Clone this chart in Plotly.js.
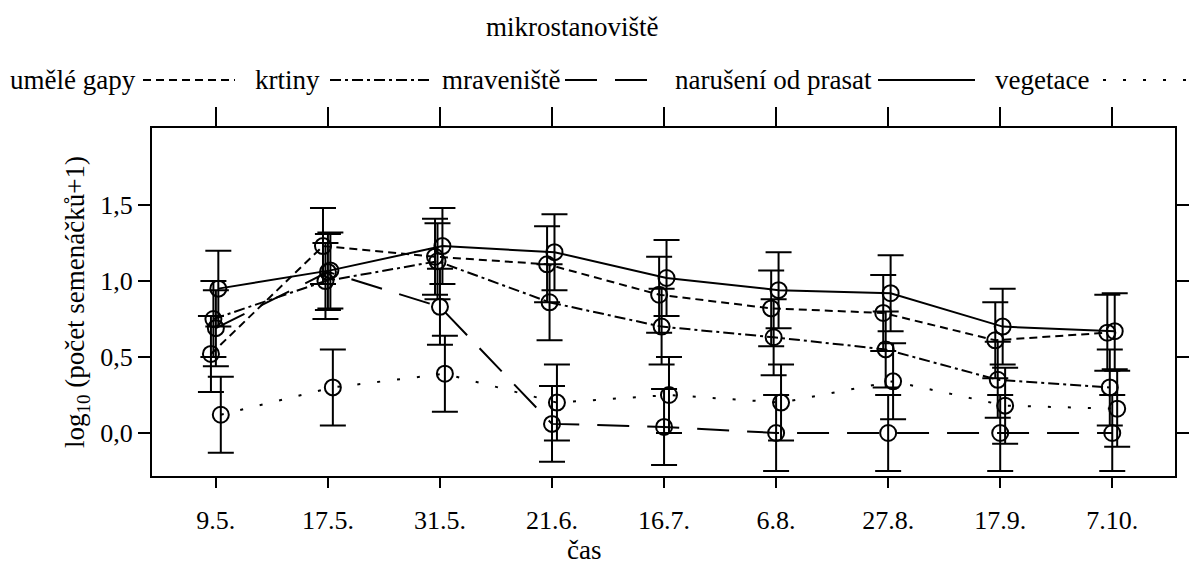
<!DOCTYPE html>
<html>
<head>
<meta charset="utf-8">
<script src="https://cdn.plot.ly/plotly-3.0.1.min.js"></script>
<style>body{margin:0;background:#fff}</style>
</head>
<body>
<div id="chart" style="width:1195px;height:565px"></div>
<script>
// categories (sampling dates)
const dates = ["9.5.", "17.5.", "31.5.", "21.6.", "16.7.", "6.8.", "27.8.", "17.9.", "7.10."];
const yTickVals = [0, 0.5, 1, 1.5];
const yTickText = ["0,0", "0,5", "1,0", "1,5"];

// series names (microsites)
const seriesNames = ["umělé gapy", "krtiny", "mraveniště", "narušení od prasat", "vegetace"];

// mean log10(count+1)
const gapy     = [0.52, 1.23, 1.16, 1.11, 0.91, 0.82, 0.79, 0.61, 0.66];
const krtiny   = [0.75, 1.00, 1.13, 0.86, 0.70, 0.63, 0.55, 0.35, 0.30];
const mravenis = [0.69, 1.06, 0.83, 0.06, 0.04, 0.00, 0.00, 0.00, 0.00];
const prasata  = [0.95, 1.07, 1.23, 1.19, 1.02, 0.94, 0.92, 0.70, 0.67];
const vegetace = [0.12, 0.30, 0.39, 0.20, 0.25, 0.20, 0.34, 0.18, 0.16];

// error bar half-widths
const gapyErr     = [0.25, 0.25, 0.25, 0.25, 0.25, 0.25, 0.25, 0.25, 0.25];
const krtinyErr   = [0.25, 0.25, 0.25, 0.25, 0.25, 0.25, 0.25, 0.25, 0.25];
const mravenisErr = [0.25, 0.25, 0.25, 0.25, 0.25, 0.25, 0.25, 0.25, 0.25];
const prasataErr  = [0.25, 0.25, 0.25, 0.25, 0.25, 0.25, 0.25, 0.25, 0.25];
const vegetaceErr = [0.25, 0.25, 0.25, 0.25, 0.25, 0.25, 0.25, 0.25, 0.25];

const values = [gapy, krtiny, mravenis, prasata, vegetace];
const errors = [gapyErr, krtinyErr, mravenisErr, prasataErr, vegetaceErr];
const dashes = ["8px,5px", "11px,4px,3px,4px", "32px,18px", "solid", "3px,17px"];
const dodge = [-2, -1, 0, 1, 2];
const dodgeStep = 0.022;

const FONT = '"Liberation Serif", "Times New Roman", "DejaVu Serif", serif';
const FS = 27;     // titles and key text
const FT = 26;     // tick labels
const idx = dates.map((d, i) => i);

const traces = values.map((vals, s) => ({
  type: "scatter",
  mode: "lines+markers",
  name: seriesNames[s],
  x: idx.map(i => i + dodge[s] * dodgeStep),
  y: vals,
  line: {color: "black", width: 2, dash: dashes[s]},
  marker: {symbol: "circle-open", size: 16, color: "black", line: {width: 2, color: "black"}},
  error_y: {type: "data", array: errors[s], visible: true, color: "black", thickness: 2, width: 13},
  showlegend: false,
  hoverinfo: "x+y+name"
}));

// invisible trace to carry the top tick axis
traces.push({
  type: "scatter", mode: "lines", x: idx, y: prasata, xaxis: "x2",
  line: {width: 0}, opacity: 0, showlegend: false, hoverinfo: "skip"
});

// manual key: text followed by line sample (pixel layout)
const W = 1195, H = 565;
const mL = 152, mR = 20, mT = 128, mB = 89;
const pw = W - mL - mR, ph = H - mT - mB;
const px = x => (x - mL) / pw;
const py = y => 1 - (y - mT) / ph;

const keyTextX = [8, 253, 440, 673, 993];
const keyLineX = [[143, 235], [330, 432], [565, 665], [878, 975], [1103, 1195]];
const keyY = 80;

const annotations = [{
  text: "mikrostanoviště", xref: "paper", yref: "paper",
  x: px(572), y: py(27), showarrow: false, xanchor: "center", yanchor: "middle",
  font: {family: FONT, size: FS, color: "black"}
}, {
  text: "čas", xref: "paper", yref: "paper",
  x: px(584), y: py(550), showarrow: false, xanchor: "center", yanchor: "middle",
  font: {family: FONT, size: FS, color: "black"}
}];
const shapes = [];
seriesNames.forEach((n, s) => {
  annotations.push({
    text: n, xref: "paper", yref: "paper", x: px(keyTextX[s]), y: py(keyY),
    showarrow: false, xanchor: "left", yanchor: "middle",
    font: {family: FONT, size: FS, color: "black"}
  });
  shapes.push({
    type: "line", xref: "paper", yref: "paper",
    x0: px(keyLineX[s][0]), x1: px(keyLineX[s][1]), y0: py(keyY), y1: py(keyY),
    line: {color: "black", width: 2, dash: dashes[s]}
  });
});

const xr = [-0.57, 8.56];
const layout = {
  width: W, height: H,
  margin: {l: mL, r: mR, t: mT, b: mB, pad: 0},
  paper_bgcolor: "white", plot_bgcolor: "white",
  font: {family: FONT, size: FT, color: "black"},
  xaxis: {
    range: xr, tickvals: idx, ticktext: dates, ticks: "outside", ticklen: 10, tickwidth: 2,
    tickcolor: "black", showline: true, linewidth: 2, linecolor: "black", mirror: true,
    showgrid: false, zeroline: false, ticklabelstandoff: 10,
    tickfont: {family: FONT, size: FT, color: "black"}
  },
  xaxis2: {
    overlaying: "x", side: "top", range: xr, tickvals: idx, ticks: "outside", ticklen: 20,
    tickwidth: 2, tickcolor: "black", showticklabels: false, showline: false,
    showgrid: false, zeroline: false
  },
  yaxis: {
    range: [-0.283, 2.007], tickvals: yTickVals, ticktext: yTickText, ticks: "outside",
    ticklen: 12, tickwidth: 2, tickcolor: "black", showline: true, linewidth: 2,
    linecolor: "black", mirror: "ticks", showgrid: false, zeroline: false,
    tickfont: {family: FONT, size: FT, color: "black"},
    title: {text: "log<sub>10</sub> (počet semenáčků+1)", standoff: 8,
            font: {family: FONT, size: FS, color: "black"}}
  },
  annotations: annotations,
  shapes: shapes,
  showlegend: false
};

Plotly.newPlot("chart", traces, layout, {displayModeBar: false, staticPlot: true});
</script>
</body>
</html>
